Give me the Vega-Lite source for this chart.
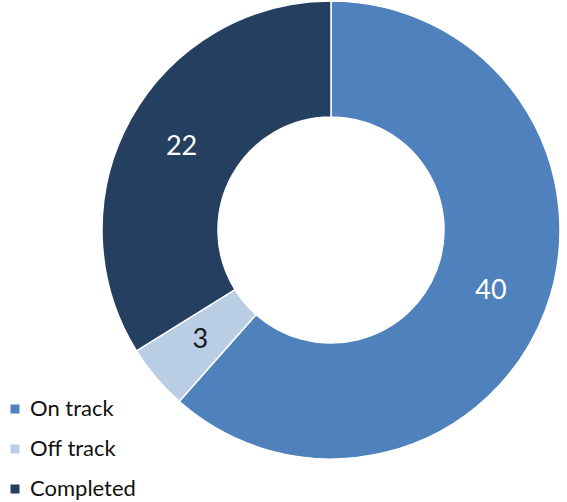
{
  "$schema": "https://vega.github.io/schema/vega-lite/v6.json",
  "width": 472,
  "height": 460,
  "autosize": "none",
  "padding": {"left": 95, "top": 0, "right": 0, "bottom": 42},
  "background": "white",
  "config": {"view": {"stroke": null}, "font": "Lato"},
  "data": {
    "values": [
      {"category": "On track", "value": 40, "ord": 1},
      {"category": "Off track", "value": 3, "ord": 2},
      {"category": "Completed", "value": 22, "ord": 3}
    ]
  },
  "encoding": {
    "theta": {"field": "value", "type": "quantitative", "stack": true},
    "order": {"field": "ord", "type": "quantitative"}
  },
  "layer": [
    {
      "mark": {"type": "arc", "outerRadius": 229, "innerRadius": 113, "stroke": "white", "strokeWidth": 1.5},
      "encoding": {
        "color": {
          "field": "category",
          "type": "nominal",
          "sort": ["On track", "Off track", "Completed"],
          "scale": {"domain": ["On track", "Off track", "Completed"], "range": ["#4f81bd", "#b9cde5", "#253f60"]},
          "legend": {
            "title": null,
            "orient": "none",
            "legendX": -91,
            "legendY": 398,
            "symbolType": "square",
            "symbolSize": 110,
            "labelFontSize": 22,
            "labelFont": "Lato",
            "labelColor": "#111111",
            "rowPadding": 18,
            "labelOffset": 4
          }
        }
      }
    },
    {
      "mark": {"type": "text", "radius": 171, "fontSize": 27, "font": "Lato"},
      "encoding": {
        "text": {"field": "value", "type": "quantitative"},
        "color": {"condition": {"test": "datum.category === 'Off track'", "value": "#1a1a1a"}, "value": "white"}
      }
    }
  ]
}
